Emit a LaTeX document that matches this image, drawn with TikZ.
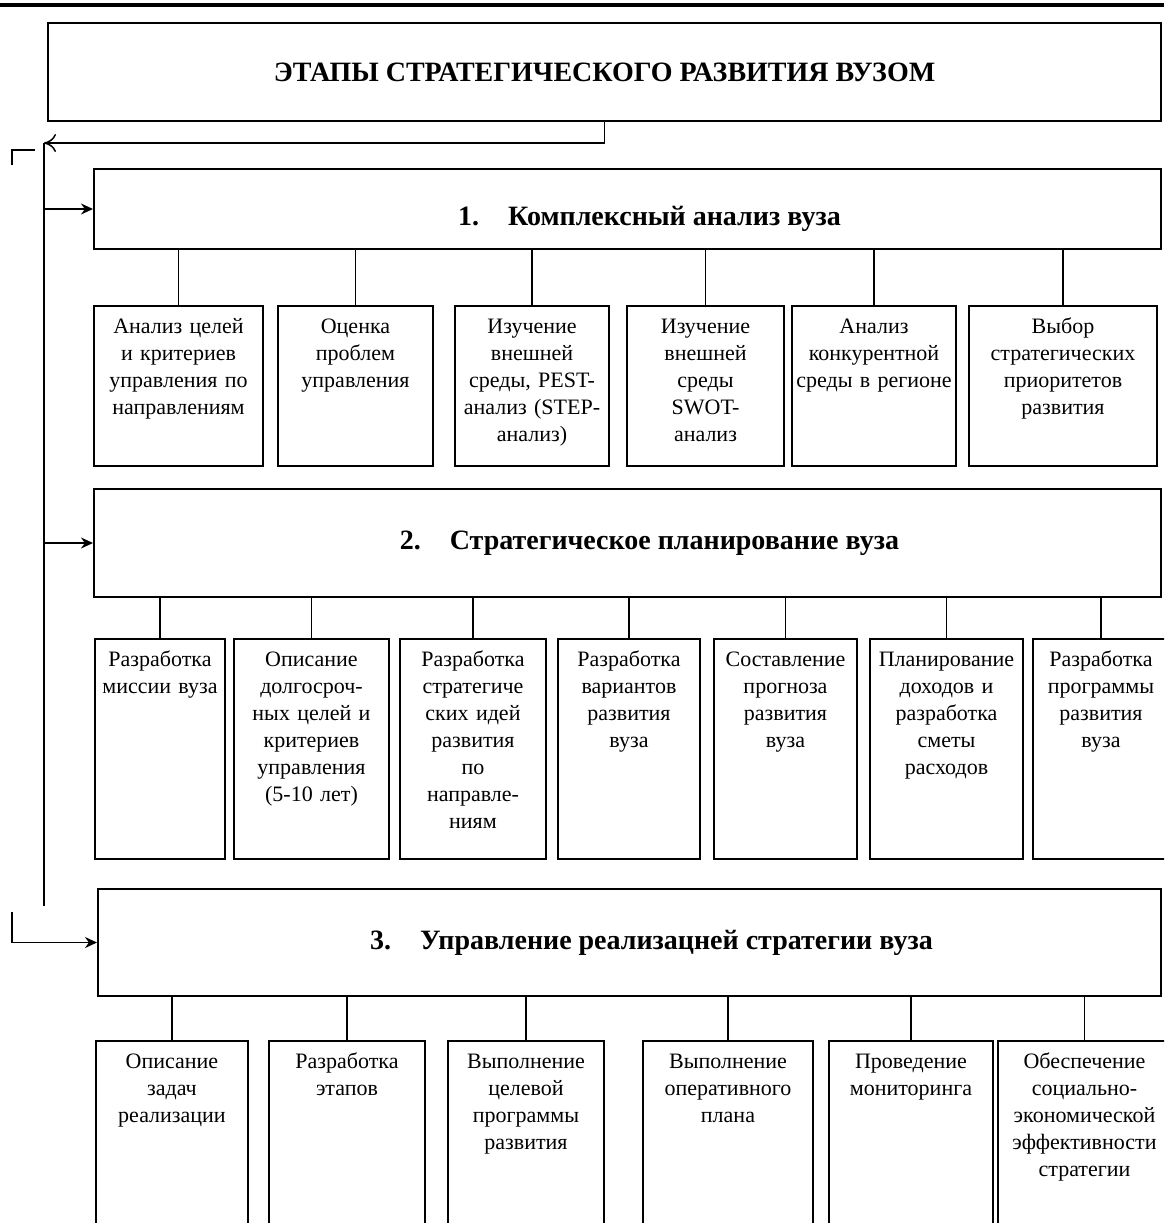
\documentclass[tikz,border=0pt]{standalone}
\usepackage{fontspec}
\setmainfont{Liberation Serif}
\usepackage{tikz}
\usetikzlibrary{positioning,arrows.meta}

\begin{document}
\begin{tikzpicture}[x=0.5pt,y=-0.5pt,>={Stealth[length=6pt,width=5.5pt]},
	stagebox/.style={draw,line width=1pt,anchor=north west,font=\bfseries\fontsize{14}{16}\selectfont},
	sub/.style={draw,line width=1pt,anchor=north west,inner xsep=0pt,inner ysep=0pt,align=center,
		text width=#1,text height=13.5pt,font=\fontsize{11}{13.5}\selectfont},
	rowa/.style={text depth=66.5pt},
	rowb/.style={text depth=96.5pt},
	rowc/.style={text depth=86.5pt},
	link/.style={line width=0.75pt}]
	\useasboundingbox (0,0) rectangle (1164,1223);
	\clip (0,0) rectangle (1164,1223);
	\draw[line width=2pt] (0,5) -- (1164,5);

	\node[stagebox,minimum width=556.5pt,minimum height=49pt] (title) at (47,22) {ЭТАПЫ СТРАТЕГИЧЕСКОГО РАЗВИТИЯ ВУЗОМ};
	\node[stagebox,minimum width=533.5pt,minimum height=40pt,text height=20pt] (k1) at (93,168) {\hspace*{22pt}1.\hspace{0.7em} Комплексный анализ вуза};
	\node[stagebox,minimum width=533.5pt,minimum height=54pt] (k2) at (93,488) {\hspace*{22pt}2.\hspace{0.7em} Стратегическое планирование вуза};
	\node[stagebox,minimum width=531.5pt,minimum height=53.5pt] (k3) at (97,888) {\hspace*{22pt}3.\hspace{0.7em} Управление реализацней стратегии вуза};

	\node[sub=84.5pt,rowa] (a1) at (93,305) {Анализ целей\\и критериев\\управления по\\направлениям};
	\node[sub=77.5pt,rowa] (a2) at (277,305) {Оценка\\проблем\\управления};
	\node[sub=77pt,rowa] (a3) at (454,305) {Изучение\\внешней\\среды, PEST-\\анализ (STEP-\\анализ)};
	\node[sub=78.5pt,rowa] (a4) at (626,305) {Изучение\\внешней\\среды\\SWOT-\\анализ};
	\node[sub=82pt,rowa] (a5) at (791,305) {Анализ\\конкурентной\\среды в регионе};
	\node[sub=94pt,rowa] (a6) at (968,305) {Выбор\\стратегических\\приоритетов\\развития};

	\node[sub=65pt,rowb] (b1) at (94,638) {Разработка\\миссии вуза};
	\node[sub=77.5pt,rowb] (b2) at (233,638) {Описание\\долгосроч-\\ных целей и\\критериев\\управления\\(5-10 лет)};
	\node[sub=73pt,rowb] (b3) at (399,638) {Разработка\\стратегиче\\ских идей\\развития\\по\\направле-\\ниям};
	\node[sub=71pt,rowb] (b4) at (557,638) {Разработка\\вариантов\\развития\\вуза};
	\node[sub=71.5pt,rowb] (b5) at (713,638) {Составление\\прогноза\\развития\\вуза};
	\node[sub=76.5pt,rowb] (b6) at (869,638) {Планирование\\доходов и\\разработка\\сметы\\расходов};
	\node[sub=68pt,rowb] (b7) at (1032,638) {Разработка\\программы\\развития\\вуза};

	\node[sub=76pt,rowc] (c1) at (95,1040) {Описание\\задач\\реализации};
	\node[sub=78pt,rowc] (c2) at (268,1040) {Разработка\\этапов};
	\node[sub=78pt,rowc] (c3) at (447,1040) {Выполнение\\целевой\\программы\\развития};
	\node[sub=85pt,rowc] (c4) at (642,1040) {Выполнение\\оперативного\\плана};
	\node[sub=82pt,rowc] (c5) at (828,1040) {Проведение\\мониторинга};
	\node[sub=86.5pt,rowc] (c6) at (997,1040) {Обеспечение\\социально-\\экономической\\эффективности\\стратегии};

	\coordinate (bt) at (44,143);
	\coordinate (bb) at (44,906);
	\coordinate (lt) at (12,165);
	\coordinate (lt2) at (35,150);
	\coordinate (lb) at (12,912);

	\draw[link,-{To[length=6pt,width=9pt]}] (title.south) |- (bt);
	\draw[link] (bt) -- (bb);
	\draw[link] (lt) |- (lt2);
	\draw[link,->] (bt |- k1.west) -- (k1.west);
	\draw[link,->] (bt |- k2.west) -- (k2.west);
	\draw[link,->] (lb) |- (k3.west);

	\draw[link] (k1.south -| a1.north) -- (a1.north)
		(k1.south -| a2.north) -- (a2.north)
		(k1.south -| a3.north) -- (a3.north)
		(k1.south -| a4.north) -- (a4.north)
		(k1.south -| a5.north) -- (a5.north)
		(k1.south -| a6.north) -- (a6.north);
	\draw[link] (k2.south -| b1.north) -- (b1.north)
		(k2.south -| b2.north) -- (b2.north)
		(k2.south -| b3.north) -- (b3.north)
		(k2.south -| b4.north) -- (b4.north)
		(k2.south -| b5.north) -- (b5.north)
		(k2.south -| b6.north) -- (b6.north)
		(k2.south -| b7.north) -- (b7.north);
	\draw[link] (k3.south -| c1.north) -- (c1.north)
		(k3.south -| c2.north) -- (c2.north)
		(k3.south -| c3.north) -- (c3.north)
		(k3.south -| c4.north) -- (c4.north)
		(k3.south -| c5.north) -- (c5.north)
		(k3.south -| c6.north) -- (c6.north);
\end{tikzpicture}
\end{document}
